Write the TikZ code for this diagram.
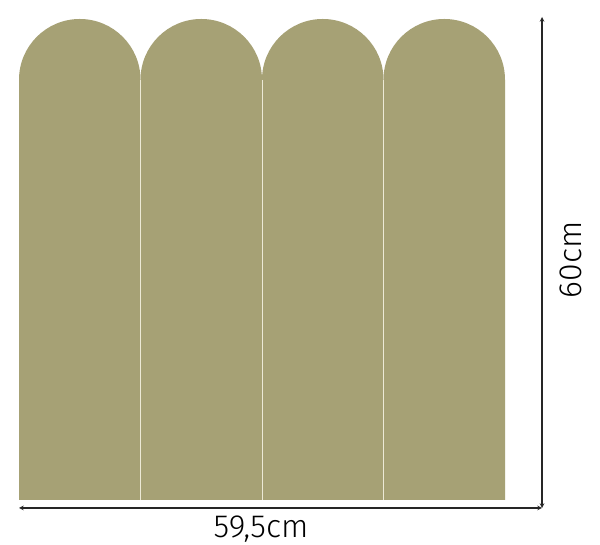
\documentclass[tikz,border=0pt]{standalone}
\usepackage{fontspec}
\setmainfont{Fira Sans Light}
\usepackage{tikz}
\usetikzlibrary{positioning}
\definecolor{olive}{RGB}{166,161,117}
\definecolor{seam}{RGB}{236,233,214}

\begin{document}
\begin{tikzpicture}[x=1pt,y=1pt,>=stealth]
            \useasboundingbox (0,0) rectangle (600,545);
            \fill[white] (0,0) rectangle (600,545);

            % panels
            \foreach \i in {0,1,2,3}{
                \fill[olive] ({19+121.5*\i},45) -- ({19+121.5*\i},465.25)
                    arc[start angle=180, end angle=0, radius=60.75]
                    -- ({140.5+121.5*\i},45) -- cycle;
            }
            \foreach \i in {1,2,3}{
                \draw[seam, line width=0.9pt] ({19+121.5*\i},45) -- ({19+121.5*\i},465.25);
            }

            % dimensions
            \coordinate (wl) at (19,37);
            \coordinate (corner) at (542,37);
            \coordinate (ht) at (542,528);
            \draw[<->, line width=1.1pt, black!85] (wl) -- (corner);
            \draw[<->, line width=1.1pt, black!85] (corner) -- (ht);

            \node[font=\fontsize{32}{34}\selectfont] (width) at (261,16) {59,5cm};
            \node[font=\fontsize{32}{34}\selectfont, rotate=90] (height) at (571,285) {60cm};
        \end{tikzpicture}
\end{document}
